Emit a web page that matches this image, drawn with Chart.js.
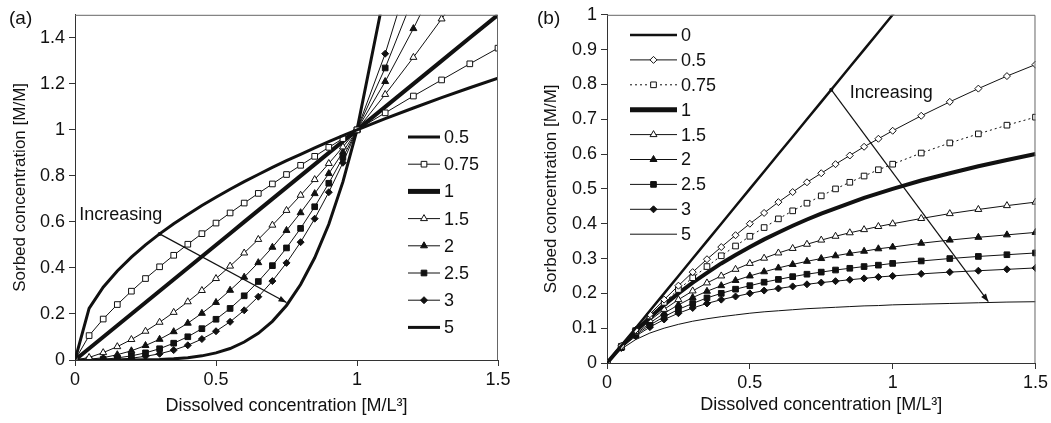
<!DOCTYPE html>
<html>
<head>
<meta charset="utf-8">
<title>Sorption isotherms</title>
<script src="https://cdn.jsdelivr.net/npm/chart.js@4.4.1/dist/chart.umd.min.js"></script>
<style>
  body { margin: 0; background: #fff; }
  #wrap { position: relative; width: 1051px; height: 423px; }
  canvas { position: absolute; top: 0; }
  #chartA { left: 0; }
  #chartB { left: 520px; }
</style>
</head>
<body>
<div id="wrap">
  <canvas id="chartA" width="520" height="423"></canvas>
  <canvas id="chartB" width="531" height="423"></canvas>
</div>
<script>
// ---- data ----
const conc = [0, 0.05, 0.1, 0.15, 0.2, 0.25, 0.3, 0.35, 0.4, 0.45, 0.5, 0.55, 0.6, 0.65, 0.7, 0.75, 0.8, 0.85, 0.9, 0.95, 1, 1.1, 1.2, 1.3, 1.4, 1.5];

// (a) exponent series
const freundLabels = ['0.5', '0.75', '1', '1.5', '2', '2.5', '3', '5'];
const fr05 = [0, 0.224, 0.316, 0.387, 0.447, 0.5, 0.548, 0.592, 0.632, 0.671, 0.707, 0.742, 0.775, 0.806, 0.837, 0.866, 0.894, 0.922, 0.949, 0.975, 1, 1.049, 1.095, 1.14, 1.183, 1.225];
const fr075 = [0, 0.106, 0.178, 0.241, 0.299, 0.354, 0.405, 0.455, 0.503, 0.549, 0.595, 0.639, 0.682, 0.724, 0.765, 0.806, 0.846, 0.885, 0.924, 0.962, 1, 1.074, 1.147, 1.217, 1.287, 1.355];
const fr1 = [0, 0.05, 0.1, 0.15, 0.2, 0.25, 0.3, 0.35, 0.4, 0.45, 0.5, 0.55, 0.6, 0.65, 0.7, 0.75, 0.8, 0.85, 0.9, 0.95, 1, 1.1, 1.2, 1.3, 1.4, 1.5];
const fr15 = [0, 0.011, 0.032, 0.058, 0.089, 0.125, 0.164, 0.207, 0.253, 0.302, 0.354, 0.408, 0.465, 0.524, 0.586, 0.65, 0.716, 0.784, 0.854, 0.926, 1, 1.154, 1.315, 1.482, 1.657, 1.837];
const fr2 = [0, 0.003, 0.01, 0.023, 0.04, 0.063, 0.09, 0.123, 0.16, 0.203, 0.25, 0.303, 0.36, 0.423, 0.49, 0.563, 0.64, 0.723, 0.81, 0.903, 1, 1.21, 1.44, 1.69, 1.96, 2.25];
const fr25 = [0, 0.001, 0.003, 0.009, 0.018, 0.031, 0.049, 0.073, 0.101, 0.136, 0.177, 0.224, 0.279, 0.341, 0.41, 0.487, 0.572, 0.666, 0.768, 0.88, 1, 1.269, 1.577, 1.927, 2.319, 2.756];
const fr3 = [0, 0, 0.001, 0.003, 0.008, 0.016, 0.027, 0.043, 0.064, 0.091, 0.125, 0.166, 0.216, 0.275, 0.343, 0.422, 0.512, 0.614, 0.729, 0.857, 1, 1.331, 1.728, 2.197, 2.744, 3.375];
const fr5 = [0, 0, 0, 0, 0, 0.001, 0.002, 0.005, 0.01, 0.018, 0.031, 0.05, 0.078, 0.116, 0.168, 0.237, 0.328, 0.444, 0.59, 0.774, 1, 1.611, 2.488, 3.713, 5.378, 7.594];

// (b) saturation series
const langLabels = ['0', '0.5', '0.75', '1', '1.5', '2', '2.5', '3', '5'];
const lg0 = [0, 0.05, 0.1, 0.15, 0.2, 0.25, 0.3, 0.35, 0.4, 0.45, 0.5, 0.55, 0.6, 0.65, 0.7, 0.75, 0.8, 0.85, 0.9, 0.95, 1, 1.1, 1.2, 1.3, 1.4, 1.5];
const lg05 = [0, 0.049, 0.095, 0.14, 0.182, 0.222, 0.261, 0.298, 0.333, 0.367, 0.4, 0.431, 0.462, 0.491, 0.519, 0.545, 0.571, 0.596, 0.621, 0.644, 0.667, 0.71, 0.75, 0.788, 0.824, 0.857];
const lg075 = [0, 0.048, 0.093, 0.135, 0.174, 0.211, 0.245, 0.277, 0.308, 0.336, 0.364, 0.389, 0.414, 0.437, 0.459, 0.48, 0.5, 0.519, 0.537, 0.555, 0.571, 0.603, 0.632, 0.658, 0.683, 0.706];
const lg1 = [0, 0.048, 0.091, 0.13, 0.167, 0.2, 0.231, 0.259, 0.286, 0.31, 0.333, 0.355, 0.375, 0.394, 0.412, 0.429, 0.444, 0.459, 0.474, 0.487, 0.5, 0.524, 0.545, 0.565, 0.583, 0.6];
const lg15 = [0, 0.047, 0.087, 0.122, 0.154, 0.182, 0.207, 0.23, 0.25, 0.269, 0.286, 0.301, 0.316, 0.329, 0.341, 0.353, 0.364, 0.374, 0.383, 0.392, 0.4, 0.415, 0.429, 0.441, 0.452, 0.462];
const lg2 = [0, 0.045, 0.083, 0.115, 0.143, 0.167, 0.188, 0.206, 0.222, 0.237, 0.25, 0.262, 0.273, 0.283, 0.292, 0.3, 0.308, 0.315, 0.321, 0.328, 0.333, 0.344, 0.353, 0.361, 0.368, 0.375];
const lg25 = [0, 0.044, 0.08, 0.109, 0.133, 0.154, 0.171, 0.187, 0.2, 0.212, 0.222, 0.232, 0.24, 0.248, 0.255, 0.261, 0.267, 0.272, 0.277, 0.281, 0.286, 0.293, 0.3, 0.306, 0.311, 0.316];
const lg3 = [0, 0.043, 0.077, 0.103, 0.125, 0.143, 0.158, 0.171, 0.182, 0.191, 0.2, 0.208, 0.214, 0.22, 0.226, 0.231, 0.235, 0.239, 0.243, 0.247, 0.25, 0.256, 0.261, 0.265, 0.269, 0.273];
const lg5 = [0, 0.04, 0.067, 0.086, 0.1, 0.111, 0.12, 0.127, 0.133, 0.138, 0.143, 0.147, 0.15, 0.153, 0.156, 0.158, 0.16, 0.162, 0.164, 0.165, 0.167, 0.169, 0.171, 0.173, 0.175, 0.176];

// "Increasing" arrows (start, end) in data units
const arrowAx = [0.3, 0.75];
const arrowAy = [0.548, 0.25];
const arrowBx = [0.785, 1.335];
const arrowBy = [0.785, 0.176];

// tick values
const xTicks = [0, 0.5, 1, 1.5];
const yTicksA = [0, 0.2, 0.4, 0.6, 0.8, 1, 1.2, 1.4];
const yTicksB = [0, 0.1, 0.2, 0.3, 0.4, 0.5, 0.6, 0.7, 0.8, 0.9, 1];

// ---- styling ----
Chart.defaults.font.family = '"Liberation Sans", Arial, sans-serif';
Chart.defaults.color = '#222';

const FONT = 18;
const INK = '#111';
const FAMILY = '"Liberation Sans", Arial, sans-serif';

// line/marker looks per series
const looksA = [
  { w: 3 },
  { w: 1, pt: 'rect', r: 4, bg: '#fff' },
  { w: 4 },
  { w: 1, pt: 'triangle', r: 4, bg: '#fff' },
  { w: 1, pt: 'triangle', r: 4, bg: INK },
  { w: 1, pt: 'rect', r: 4, bg: INK },
  { w: 1, pt: 'rectRot', r: 3.5, bg: INK },
  { w: 3 }
];
const looksB = [
  { w: 2.5 },
  { w: 1, pt: 'rectRot', r: 3.5, bg: '#fff' },
  { w: 1, pt: 'rect', r: 4, bg: '#fff', dash: [2, 3] },
  { w: 4 },
  { w: 1, pt: 'triangle', r: 4, bg: '#fff' },
  { w: 1, pt: 'triangle', r: 4, bg: INK },
  { w: 1, pt: 'rect', r: 4, bg: INK },
  { w: 1, pt: 'rectRot', r: 3.5, bg: INK },
  { w: 1 }
];

function toPoints(xs, ys) {
  return xs.map((x, i) => ({ x, y: ys[i] }));
}

function buildSeries(labels, arrays, looks) {
  return arrays.map((ys, i) => {
    const lk = looks[i];
    return {
      label: labels[i],
      data: toPoints(conc, ys),
      borderColor: INK,
      borderWidth: lk.w,
      borderDash: lk.dash || [],
      pointStyle: lk.pt || 'circle',
      pointRadius: lk.pt ? lk.r : 0,
      pointBackgroundColor: lk.bg || INK,
      pointBorderColor: INK,
      pointBorderWidth: 1,
      fill: false,
      tension: 0
    };
  });
}

function arrowSeries(xs, ys) {
  return {
    label: 'arrow',
    isArrow: true,
    data: toPoints(xs, ys),
    borderColor: INK,
    borderWidth: 1.2,
    pointRadius: [2, 0],
    pointBackgroundColor: INK,
    pointBorderWidth: 0
  };
}

// ---- plugins ----
// legend drawn inside the plot area
const boxLegend = {
  id: 'boxLegend',
  afterDraw(chart, args, opts) {
    const ctx = chart.ctx;
    const sets = chart.data.datasets.filter(d => !d.isArrow);
    ctx.save();
    sets.forEach((ds, i) => {
      const y = opts.y0 + i * opts.dy;
      ctx.strokeStyle = INK;
      ctx.lineWidth = ds.borderWidth + (ds.borderWidth > 3 ? 1 : 0);
      ctx.setLineDash(ds.borderDash || []);
      ctx.beginPath();
      ctx.moveTo(opts.x1, y);
      ctx.lineTo(opts.x2, y);
      ctx.stroke();
      ctx.setLineDash([]);
      if (ds.pointRadius > 0) {
        ctx.fillStyle = ds.pointBackgroundColor;
        ctx.lineWidth = 1;
        Chart.helpers.drawPoint(ctx, {
          pointStyle: ds.pointStyle, radius: ds.pointRadius, rotation: 0, borderWidth: 1
        }, (opts.x1 + opts.x2) / 2, y);
      }
      ctx.fillStyle = INK;
      ctx.font = FONT + 'px ' + FAMILY;
      ctx.textBaseline = 'middle';
      ctx.textAlign = 'left';
      ctx.fillText(ds.label, opts.textX, y + 1);
    });
    ctx.restore();
  }
};

// arrowheads, box edges, notes
const extras = {
  id: 'extras',
  afterDatasetsDraw(chart) {
    const ctx = chart.ctx;
    chart.data.datasets.forEach((ds, i) => {
      if (!ds.isArrow) return;
      const pts = chart.getDatasetMeta(i).data;
      const a = pts[0], b = pts[pts.length - 1];
      const ang = Math.atan2(b.y - a.y, b.x - a.x);
      const len = 8, half = 3;
      ctx.save();
      ctx.fillStyle = INK;
      ctx.translate(b.x, b.y);
      ctx.rotate(ang);
      ctx.beginPath();
      ctx.moveTo(0, 0);
      ctx.lineTo(-len, -half);
      ctx.lineTo(-len, half);
      ctx.closePath();
      ctx.fill();
      ctx.restore();
    });
  },
  afterDraw(chart, args, opts) {
    const ctx = chart.ctx;
    const ca = chart.chartArea;
    ctx.save();
    // top and right frame
    ctx.strokeStyle = '#666';
    ctx.lineWidth = 1;
    ctx.beginPath();
    ctx.moveTo(ca.left, ca.top + 0.5);
    ctx.lineTo(ca.right - 0.5, ca.top + 0.5);
    ctx.lineTo(ca.right - 0.5, ca.bottom);
    ctx.stroke();

    ctx.fillStyle = INK;
    ctx.font = (FONT + 1) + 'px ' + FAMILY;
    ctx.textBaseline = 'middle';
    ctx.textAlign = 'left';
    ctx.fillText(opts.panel, opts.panelX, opts.panelY);

    ctx.font = FONT + 'px ' + FAMILY;
    const sx = chart.scales.x.getPixelForValue(opts.noteX);
    const sy = chart.scales.y.getPixelForValue(opts.noteY);
    ctx.fillText('Increasing', sx, sy);
    ctx.restore();
  }
};

const plainNum = v => String(Number(v.toFixed(2)));

function axisX(titlePad, height) {
  return {
    type: 'linear',
    min: 0,
    max: 1.5,
    afterBuildTicks: s => { s.ticks = xTicks.map(v => ({ value: v })); },
    afterFit: s => { s.height = height; },
    ticks: { font: { size: FONT }, color: INK, padding: 3, maxRotation: 0, callback: plainNum },
    grid: { drawOnChartArea: false, tickLength: 6, color: '#333' },
    border: { color: '#333', width: 1 },
    title: {
      display: true,
      text: 'Dissolved concentration [M/L³]',
      font: { size: FONT },
      color: INK,
      padding: { top: 0, bottom: titlePad }
    }
  };
}

function axisY(maxV, ticks, width, titlePad) {
  return {
    type: 'linear',
    min: 0,
    max: maxV,
    afterBuildTicks: s => { s.ticks = ticks.map(v => ({ value: v })); },
    afterFit: s => { s.width = width; },
    ticks: { font: { size: FONT }, color: INK, padding: 4, callback: plainNum },
    grid: { drawOnChartArea: false, tickLength: 6, color: '#333' },
    border: { color: '#333', width: 1 },
    title: {
      display: true,
      text: 'Sorbed concentration [M/M]',
      font: { size: FONT - 1 },
      color: INK,
      padding: { top: titlePad, bottom: 0 }
    }
  };
}

function makeChart(el, datasets, opts) {
  return new Chart(el, {
    type: 'line',
    data: { datasets },
    options: {
      responsive: false,
      animation: false,
      devicePixelRatio: 1,
      layout: { padding: opts.padding },
      plugins: {
        legend: { display: false },
        tooltip: { enabled: false },
        boxLegend: opts.legend,
        extras: opts.extras
      },
      scales: {
        x: axisX(opts.xTitlePad, opts.xHeight),
        y: axisY(opts.yMax, opts.yTicks, opts.yWidth, opts.yTitlePad)
      }
    },
    plugins: [boxLegend, extras]
  });
}

// (a)
const setsA = buildSeries(freundLabels, [fr05, fr075, fr1, fr15, fr2, fr25, fr3, fr5], looksA);
setsA.push(arrowSeries(arrowAx, arrowAy));
makeChart(document.getElementById('chartA'), setsA, {
  padding: { top: 9, right: 22, left: 0, bottom: 0 },
  yMax: 1.5, yTicks: yTicksA, yWidth: 75, yTitlePad: 10,
  xHeight: 63, xTitlePad: 6,
  legend: { x1: 408, x2: 440, textX: 444, y0: 137, dy: 27.2 },
  extras: { panel: '(a)', panelX: 9, panelY: 19, noteX: 0.015, noteY: 0.63 }
});

// (b)
const setsB = buildSeries(langLabels, [lg0, lg05, lg075, lg1, lg15, lg2, lg25, lg3, lg5], looksB);
setsB.push(arrowSeries(arrowBx, arrowBy));
makeChart(document.getElementById('chartB'), setsB, {
  padding: { top: 10, right: 15, left: 0, bottom: 0 },
  yMax: 1, yTicks: yTicksB, yWidth: 87, yTitlePad: 21,
  xHeight: 60, xTitlePad: 7,
  legend: { x1: 110, x2: 157, textX: 161, y0: 35, dy: 24.9 },
  extras: { panel: '(b)', panelX: 17, panelY: 19, noteX: 0.85, noteY: 0.776 }
});
</script>
</body>
</html>
